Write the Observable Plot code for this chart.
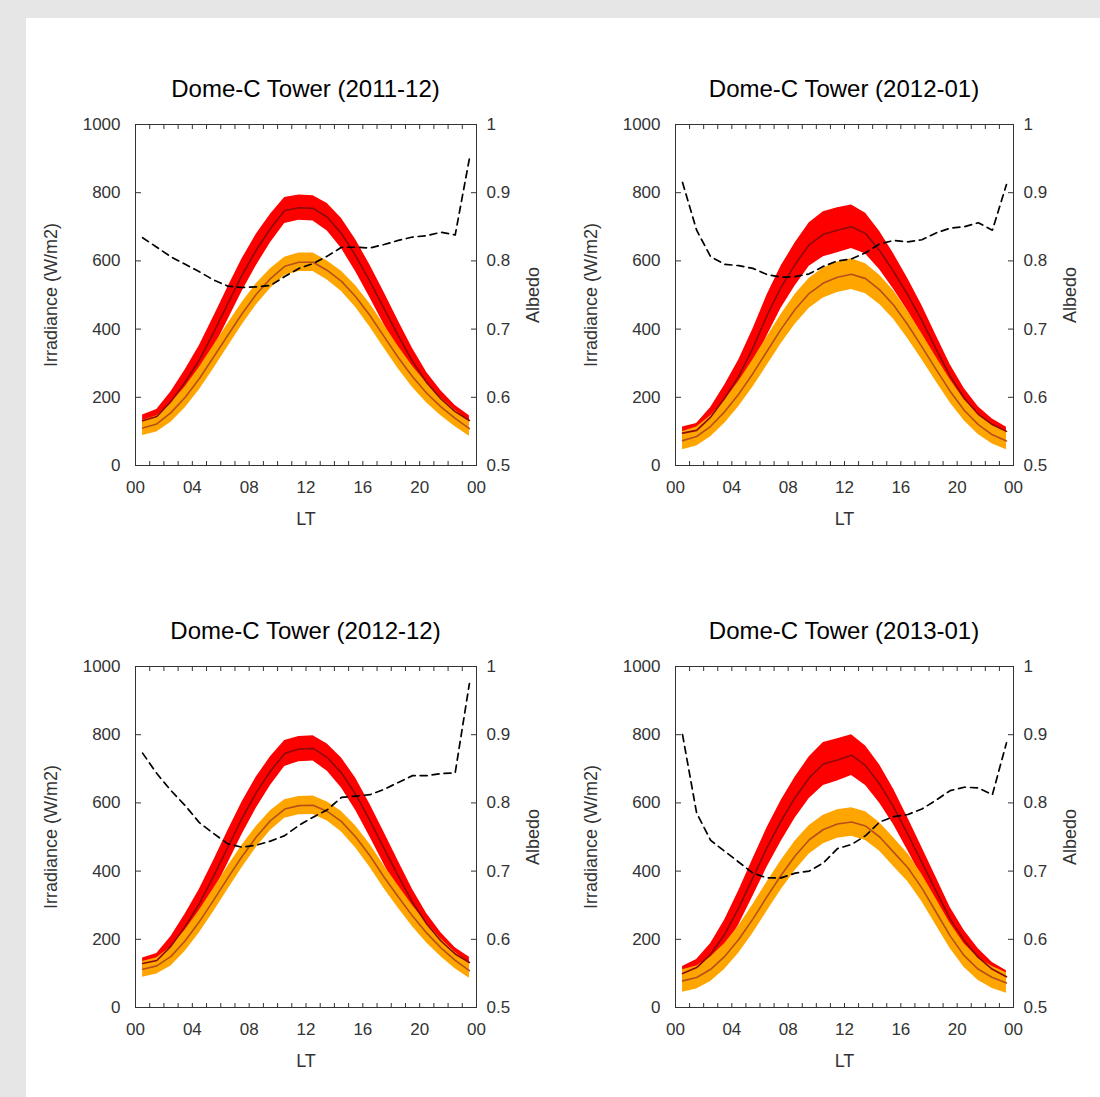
<!DOCTYPE html>
<html>
<head>
<meta charset="utf-8">
<script src="https://cdn.jsdelivr.net/npm/d3@7"></script>
<script src="https://cdn.jsdelivr.net/npm/@observablehq/plot@0.6"></script>
<style>
  html, body { margin: 0; padding: 0; }
  body { width: 1100px; height: 1097px; background: #e6e6e6; position: relative; overflow: hidden;
         font-family: "Liberation Sans", Arial, sans-serif; }
  #sheet { position: absolute; left: 26px; top: 18px; width: 1074px; height: 1079px; background: #ffffff; }
  .layer { position: absolute; }
  .layer svg { overflow: visible; max-width: none !important; display: block; }
  .title { position: absolute; text-align: center; font-size: 24px; color: #000; line-height: 30px; white-space: nowrap; }
</style>
</head>
<body>
<div id="sheet"></div>
<div id="root"></div>
<script>
// ---------- data ----------
const hours = [0.5,1.5,2.5,3.5,4.5,5.5,6.5,7.5,8.5,9.5,10.5,11.5,12.5,13.5,14.5,15.5,16.5,17.5,18.5,19.5,20.5,21.5,22.5,23.5];

const titles = ["Dome-C Tower (2011-12)", "Dome-C Tower (2012-01)", "Dome-C Tower (2012-12)", "Dome-C Tower (2013-01)"];

// 2011-12
const red_2011_12      = [131,144,188,245,310,390,475,558,632,695,748,756,754,728,680,615,540,460,380,305,243,195,158,132];
const redSd_2011_12    = [17,20,28,36,42,46,48,48,46,42,38,37,37,40,44,47,48,47,44,38,30,24,18,14];
const orange_2011_12   = [110,122,155,200,255,318,382,445,502,548,584,596,596,572,540,495,440,378,316,260,212,172,138,108];
const orangeSd_2011_12 = [22,24,28,31,33,34,34,33,31,29,27,27,27,28,30,32,34,34,33,31,29,26,24,22];
const albedo_2011_12   = [0.834,0.820,0.806,0.795,0.784,0.772,0.763,0.761,0.762,0.764,0.777,0.789,0.796,0.807,0.820,0.820,0.819,0.824,0.830,0.835,0.837,0.842,0.838,0.950];

// 2012-01
const red_2012_01      = [95,103,142,198,262,345,440,523,590,648,678,690,700,680,630,568,500,425,342,262,198,150,120,100];
const redSd_2012_01    = [18,20,28,38,48,55,60,62,63,64,66,66,64,60,56,52,48,44,40,34,28,22,16,12];
const orange_2012_01   = [73,85,115,158,210,270,335,400,458,505,535,552,561,548,515,470,412,348,282,218,162,120,90,72];
const orangeSd_2012_01 = [27,28,31,34,37,40,42,43,44,44,44,45,45,44,43,42,40,38,36,34,31,29,27,26];
const albedo_2012_01   = [0.915,0.845,0.806,0.795,0.793,0.789,0.780,0.776,0.777,0.781,0.792,0.800,0.803,0.812,0.825,0.830,0.828,0.831,0.841,0.848,0.850,0.856,0.845,0.912];

// 2012-12
const red_2012_12      = [129,138,180,238,305,385,470,555,630,693,745,758,760,733,688,625,548,466,385,308,245,195,157,132];
const redSd_2012_12    = [16,20,28,36,42,46,48,48,46,42,38,37,37,40,44,47,48,47,44,38,30,24,18,15];
const orange_2012_12   = [112,122,150,196,252,315,380,443,500,548,582,592,593,575,545,500,445,382,324,268,218,175,138,108];
const orangeSd_2012_12 = [23,24,28,31,33,34,34,33,31,29,27,27,27,28,30,32,34,34,33,31,29,26,24,22];
const albedo_2012_12   = [0.873,0.843,0.818,0.796,0.771,0.755,0.740,0.735,0.738,0.744,0.752,0.767,0.779,0.790,0.808,0.810,0.812,0.820,0.830,0.840,0.840,0.843,0.844,0.975];

// 2013-01
const red_2013_01      = [100,117,156,215,293,381,469,547,616,674,714,726,740,709,655,587,508,425,342,259,196,147,112,90];
const redSd_2013_01    = [20,24,32,42,50,55,58,60,60,61,63,62,60,58,56,52,48,44,40,35,30,25,20,18];
const orange_2013_01   = [78,88,112,150,200,260,325,388,445,492,522,538,544,532,500,455,410,350,280,210,152,112,88,72];
const orangeSd_2013_01 = [33,34,36,38,40,42,43,43,43,42,42,42,42,42,42,42,41,40,39,37,35,33,32,30];
const albedo_2013_01   = [0.900,0.785,0.745,0.729,0.713,0.697,0.690,0.690,0.697,0.700,0.712,0.733,0.739,0.752,0.772,0.780,0.783,0.791,0.804,0.818,0.823,0.822,0.812,0.888];

// axis ticks and labels
const xTickValues  = [0,4,8,12,16,20,24];
const xTickLabels  = ["00","04","08","12","16","20","00"];
const xMinorTicks  = [0,1,2,3,4,5,6,7,8,9,10,11,12,13,14,15,16,17,18,19,20,21,22,23,24];
const yTickValues  = [0,200,400,600,800,1000];
const yTickLabels  = ["0","200","400","600","800","1000"];
const aTickValues  = [0.5,0.6,0.7,0.8,0.9,1];
const aTickLabels  = ["0.5","0.6","0.7","0.8","0.9","1"];

// ---------- layout ----------
const panels = [
  {title: titles[0], red: red_2011_12, redSd: redSd_2011_12, orange: orange_2011_12, orangeSd: orangeSd_2011_12, albedo: albedo_2011_12, L: 135, R: 476, T: 124, B: 465},
  {title: titles[1], red: red_2012_01, redSd: redSd_2012_01, orange: orange_2012_01, orangeSd: orangeSd_2012_01, albedo: albedo_2012_01, L: 675, R: 1013, T: 124, B: 465},
  {title: titles[2], red: red_2012_12, redSd: redSd_2012_12, orange: orange_2012_12, orangeSd: orangeSd_2012_12, albedo: albedo_2012_12, L: 135, R: 476, T: 666, B: 1007},
  {title: titles[3], red: red_2013_01, redSd: redSd_2013_01, orange: orange_2013_01, orangeSd: orangeSd_2013_01, albedo: albedo_2013_01, L: 675, R: 1013, T: 666, B: 1007}
];

const mL = 105, mR = 90, mT = 20, mB = 75;
const FONT = "'Liberation Sans', Arial, sans-serif";
const TXT = "#333333";
const root = document.getElementById("root");

function fmt(values, labels) { return d => labels[values.indexOf(d)]; }

for (const p of panels) {
  const rows = hours.map((h, i) => ({h, red: p.red[i], redSd: p.redSd[i], orange: p.orange[i], orangeSd: p.orangeSd[i], albedo: p.albedo[i]}));
  const W = (p.R - p.L) + mL + mR;
  const H = (p.B - p.T) + mT + mB;
  const common = {
    width: W, height: H,
    marginLeft: mL, marginRight: mR, marginTop: mT, marginBottom: mB,
    style: {fontFamily: FONT, fontSize: "17px", color: TXT, background: "transparent", overflow: "visible", maxWidth: "none"},
    x: {domain: [0, 24], axis: null}
  };

  const base = Plot.plot({
    ...common,
    y: {domain: [0, 1000], axis: null},
    marks: [
      Plot.areaY(rows, {x: "h", y1: d => d.red - d.redSd, y2: d => d.red + d.redSd, fill: "#ff0000"}),
      Plot.areaY(rows, {x: "h", y1: d => d.orange - d.orangeSd, y2: d => d.orange + d.orangeSd, fill: "#ffa500"}),
      Plot.lineY(rows, {x: "h", y: "red", stroke: "#8b0a0a", strokeWidth: 1.6}),
      Plot.lineY(rows, {x: "h", y: "orange", stroke: "#b5501c", strokeWidth: 1.6}),
      Plot.frame({stroke: "#333333", strokeWidth: 1}),
      Plot.axisX({anchor: "bottom", ticks: xMinorTicks, tickSize: -4, tickFormat: () => "", label: null, stroke: "#333"}),
      Plot.axisX({anchor: "top", ticks: xMinorTicks, tickSize: -4, tickFormat: () => "", label: null, stroke: "#333"}),
      Plot.axisX({anchor: "bottom", ticks: xTickValues, tickSize: 0, tickPadding: 15, tickFormat: fmt(xTickValues, xTickLabels), label: null, fill: TXT}),
      Plot.axisY({anchor: "left", ticks: yTickValues, tickSize: -6, tickFormat: () => "", label: null, stroke: "#333"}),
      Plot.axisY({anchor: "left", ticks: yTickValues, tickSize: 0, tickPadding: 15, tickFormat: fmt(yTickValues, yTickLabels), label: null, fill: TXT}),
      Plot.text(["Irradiance (W/m2)"], {frameAnchor: "left", textAnchor: "middle", lineAnchor: "middle", rotate: -90, dx: -84, fontSize: 18, fill: TXT}),
      Plot.text(["LT"], {frameAnchor: "bottom", textAnchor: "middle", lineAnchor: "middle", dy: 54, fontSize: 18, fill: TXT})
    ]
  });

  const over = Plot.plot({
    ...common,
    y: {domain: [0.5, 1], axis: null},
    marks: [
      Plot.lineY(rows, {x: "h", y: "albedo", stroke: "#000", strokeWidth: 1.7, strokeDasharray: "7,5"}),
      Plot.axisY({anchor: "right", ticks: aTickValues, tickSize: -6, tickFormat: () => "", label: null, stroke: "#333"}),
      Plot.axisY({anchor: "right", ticks: aTickValues, tickSize: 0, tickPadding: 10, tickFormat: fmt(aTickValues, aTickLabels), label: null, fill: TXT}),
      Plot.text(["Albedo"], {frameAnchor: "right", textAnchor: "middle", lineAnchor: "middle", rotate: -90, dx: 57, fontSize: 18, fill: TXT})
    ]
  });

  for (const svg of [base, over]) {
    const wrap = document.createElement("div");
    wrap.className = "layer";
    wrap.style.left = (p.L - mL) + "px";
    wrap.style.top = (p.T - mT) + "px";
    wrap.style.width = W + "px";
    wrap.style.height = H + "px";
    wrap.style.pointerEvents = "none";
    wrap.appendChild(svg);
    root.appendChild(wrap);
  }

  const t = document.createElement("div");
  t.className = "title";
  t.textContent = p.title;
  t.style.left = p.L + "px";
  t.style.width = (p.R - p.L) + "px";
  t.style.top = (p.T - 50) + "px";
  t.style.height = "30px";
  root.appendChild(t);
}
</script>
</body>
</html>
